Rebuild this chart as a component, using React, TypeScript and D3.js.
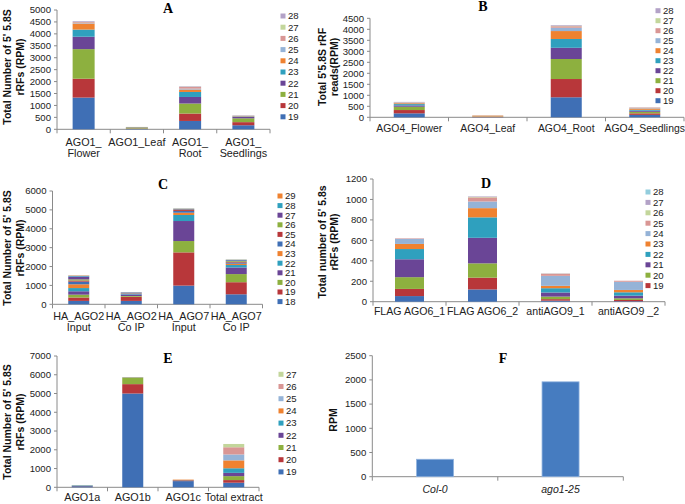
import React from "react";
import * as d3 from "d3";

// palette (Excel-style)
const BLUE = "#3F6FB5";
const RED = "#B8373A";
const GREEN = "#8DB03F";
const PURPLE = "#6A4596";
const TEAL = "#2FA0BE";
const ORANGE = "#EF8230";
const LBLUE = "#95B3D7";
const PINK = "#D99694";
const LGREEN = "#C3D69B";
const LAVENDER = "#B3A2C7";
const LCYAN = "#93CDDD";

// panel A
const keysA = ["19", "20", "21", "22", "23", "24", "25", "26", "27", "28"];
const catsA = [["AGO1_", "Flower"], ["AGO1_Leaf"], ["AGO1_", "Root"], ["AGO1_", "Seedlings"]];
const rowsA = [
  [1330, 790, 1240, 520, 300, 250, 20, 40, 10, 30],
  [20, 15, 40, 10, 5, 5, 2, 2, 1, 0],
  [350, 310, 420, 275, 210, 100, 40, 70, 10, 20],
  [170, 130, 160, 60, 20, 15, 10, 10, 5, 10],
];
const colorsA = [BLUE, RED, GREEN, PURPLE, TEAL, ORANGE, LBLUE, PINK, LGREEN, LAVENDER];

// panel B
const keysB = ["19", "20", "21", "22", "23", "24", "25", "26", "27", "28"];
const catsB = [["AGO4_Flower"], ["AGO4_Leaf"], ["AGO4_Root"], ["AGO4_Seedlings"]];
const rowsB = [
  [180, 150, 150, 60, 60, 40, 20, 20, 5, 15],
  [8, 8, 10, 5, 7, 40, 5, 5, 2, 0],
  [910, 830, 910, 510, 400, 360, 150, 70, 20, 30],
  [110, 70, 70, 50, 40, 60, 20, 20, 5, 10],
];

// panel C
const keysC = ["18", "19", "20", "21", "22", "23", "24", "25", "26", "27", "28", "29"];
const catsC = [["HA_AGO2", "Input"], ["HA_AGO2", "Co IP"], ["HA_AGO7", "Input"], ["HA_AGO7", "Co IP"]];
const rowsC = [
  [180, 180, 150, 180, 170, 200, 140, 60, 60, 150, 40, 20],
  [180, 220, 40, 80, 30, 20, 20, 10, 10, 20, 10, 0],
  [990, 1760, 600, 1060, 320, 120, 90, 50, 30, 30, 15, 10],
  [530, 640, 430, 350, 130, 70, 60, 40, 40, 40, 30, 10],
];
const colorsC = [BLUE, RED, GREEN, PURPLE, TEAL, ORANGE, BLUE, RED, GREEN, PURPLE, TEAL, ORANGE];

// panel D
const keysD = ["18", "19", "20", "21", "22", "23", "24", "25", "26", "27", "28"];
const legendD = ["19", "20", "21", "22", "23", "24", "25", "26", "27", "28"];
const catsD = [["FLAG AGO6_1"], ["FLAG AGO6_2"], ["antiAGO9_1"], ["antiAGO9 _2"]];
const rowsD = [
  [55, 70, 115, 175, 100, 50, 50, 5, 0, 0, 0],
  [120, 115, 140, 250, 200, 90, 65, 40, 5, 5, 0],
  [10, 15, 25, 40, 42, 23, 98, 20, 2, 2, 0],
  [5, 12, 16, 26, 33, 23, 80, 10, 0, 0, 0],
];
const colorsD = [BLUE, RED, GREEN, PURPLE, TEAL, ORANGE, LBLUE, PINK, LGREEN, LAVENDER, LCYAN];

// panel E
const keysE = ["19", "20", "21", "22", "23", "24", "25", "26", "27"];
const catsE = [["AGO1a"], ["AGO1b"], ["AGO1c"], ["Total extract"]];
const rowsE = [
  [60, 10, 10, 10, 20, 5, 5, 0, 0],
  [5000, 500, 350, 10, 5, 5, 0, 0, 0],
  [330, 40, 10, 5, 5, 20, 0, 0, 0],
  [245, 140, 210, 175, 245, 420, 315, 385, 175],
];

// panel F
const catsF = ["Col-0", "ago1-25"];
const valuesF = [360, 1960];

const SANS = "'Liberation Sans', Arial, sans-serif";
const SERIF = "'Liberation Serif', 'Times New Roman', serif";
const AXIS = "#8a8a8a";

type PanelProps = {
  cats: string[][];
  keys: string[];
  rows: number[][];
  colors: string[];
  legendKeys?: string[];
  x0: number;
  x1: number;
  y0: number;
  y1: number;
  yMax: number;
  yStep: number;
  barW: number;
  legX: number;
  legY: number;
  legDy: number;
  title: string;
  titleX: number;
  titleY: number;
  ylab: string[];
  ylabX: number[];
  ylabY: number;
  catY: number[];
  catSize?: number;
};

function Frame(p: {
  x: d3.ScaleBand<string>;
  y: d3.ScaleLinear<number, number>;
  ticks: number[];
  x0: number;
  x1: number;
  y0: number;
  labels: string[][];
  catY: number[];
  catSize?: number;
  italic?: boolean;
}) {
  const { x, y, ticks, x0, x1, y0 } = p;
  const bounds = [...x.domain().map((d) => x(d) as number), x1];
  return (
    <g>
      <line x1={x0} x2={x0} y1={y(ticks[ticks.length - 1])} y2={y0} stroke={AXIS} />
      {ticks.map((t) => (
        <g key={t}>
          <line x1={x0 - 3} x2={x0} y1={y(t)} y2={y(t)} stroke={AXIS} />
          <text x={x0 - 6} y={y(t)} dy="0.35em" textAnchor="end" fontSize={9.6} fontFamily={SANS} fill="#222">
            {t}
          </text>
        </g>
      ))}
      <line x1={x0} x2={x1} y1={y0} y2={y0} stroke={AXIS} />
      {bounds.map((b, i) => (
        <line key={i} x1={b} x2={b} y1={y0} y2={y0 + 4} stroke={AXIS} />
      ))}
      {x.domain().map((d, i) => (
        <g key={d}>
          {p.labels[i].map((ln, j) => (
            <text
              key={j}
              x={(x(d) as number) + x.bandwidth() / 2}
              y={p.catY[j]}
              dy="0.35em"
              textAnchor="middle"
              fontSize={p.catSize ?? 10.5}
              fontFamily={SANS}
              fontStyle={p.italic ? "italic" : "normal"}
              fill="#222"
            >
              {ln}
            </text>
          ))}
        </g>
      ))}
    </g>
  );
}

function Labels(p: { title: string; tx: number; ty: number; ylab: string[]; ylabX: number[]; ylabY: number }) {
  return (
    <g>
      <text x={p.tx} y={p.ty} dy="0.35em" textAnchor="middle" fontFamily={SERIF} fontWeight="bold" fontSize={14}>
        {p.title}
      </text>
      {p.ylab.map((ln, i) => (
        <text
          key={i}
          transform={`translate(${p.ylabX[i]},${p.ylabY}) rotate(-90)`}
          dy="0.35em"
          textAnchor="middle"
          fontFamily={SANS}
          fontWeight="bold"
          fontSize={10.5}
          fill="#111"
        >
          {ln}
        </text>
      ))}
    </g>
  );
}

function StackPanel(p: PanelProps) {
  const names = p.cats.map((c) => c.join(" "));
  const x = d3.scaleBand<string>().domain(names).range([p.x0, p.x1]).padding(0);
  const y = d3.scaleLinear().domain([0, p.yMax]).range([p.y0, p.y1]);
  const ticks = d3.range(0, p.yMax + p.yStep / 2, p.yStep);
  const data = p.rows.map((r, i) => {
    const o: Record<string, any> = { cat: names[i] };
    p.keys.forEach((k, j) => (o[k] = r[j]));
    return o;
  });
  const series = d3.stack<Record<string, any>>().keys(p.keys)(data);
  const color = d3.scaleOrdinal<string, string>().domain(p.keys).range(p.colors);
  const legKeys = (p.legendKeys ?? p.keys).slice().reverse();
  return (
    <g>
      <Frame x={x} y={y} ticks={ticks} x0={p.x0} x1={p.x1} y0={p.y0} labels={p.cats} catY={p.catY} catSize={p.catSize} />
      {series.map((s) => (
        <g key={s.key} fill={color(s.key)}>
          {s.map((d, i) =>
            d[1] - d[0] > 0 ? (
              <rect
                key={i}
                x={(x(names[i]) as number) + x.bandwidth() / 2 - p.barW / 2}
                width={p.barW}
                y={y(d[1])}
                height={y(d[0]) - y(d[1])}
              />
            ) : null
          )}
        </g>
      ))}
      {legKeys.map((k, i) => (
        <g key={k} transform={`translate(${p.legX},${p.legY + i * p.legDy})`}>
          <rect x={-2.5} y={-2.5} width={5} height={5} fill={color(k)} />
          <text x={5} dy="0.35em" fontSize={9.6} fontFamily={SANS} fill="#222">
            {k}
          </text>
        </g>
      ))}
      <Labels title={p.title} tx={p.titleX} ty={p.titleY} ylab={p.ylab} ylabX={p.ylabX} ylabY={p.ylabY} />
    </g>
  );
}

function BarPanelF() {
  const x0 = 372.3, x1 = 623.3, y0 = 476.7, y1 = 355.7;
  const x = d3.scaleBand<string>().domain(catsF).range([x0, x1]).padding(0);
  const y = d3.scaleLinear().domain([0, 2500]).range([y0, y1]);
  const ticks = d3.range(0, 2501, 500);
  const bw = 37;
  return (
    <g>
      <Frame x={x} y={y} ticks={ticks} x0={x0} x1={x1} y0={y0} labels={catsF.map((c) => [c])} catY={[489]} italic />
      {catsF.map((c, i) => (
        <rect
          key={c}
          x={(x(c) as number) + x.bandwidth() / 2 - bw / 2}
          width={bw}
          y={y(valuesF[i])}
          height={y0 - y(valuesF[i])}
          fill="#467CC0"
          stroke="#8FB2DE"
          strokeWidth={0.8}
        />
      ))}
      <Labels title="F" tx={503} ty={358} ylab={["RPM"]} ylabX={[333]} ylabY={420} />
    </g>
  );
}

export default function App() {
  return (
    <svg width={685} height={504} style={{ display: "block", position: "absolute", left: 0, top: 0, background: "#fff" }}>
      <StackPanel
        cats={catsA} keys={keysA} rows={rowsA} colors={colorsA}
        x0={57} x1={270} y0={129.3} y1={10} yMax={5000} yStep={500} barW={22}
        legX={283} legY={16} legDy={11.2}
        title="A" titleX={168} titleY={8}
        ylab={["Total Number of 5' 5.8S", "rRFs (RPM)"]} ylabX={[7, 20]} ylabY={67}
        catY={[142, 153]} catSize={10.8}
      />
      <StackPanel
        cats={catsB} keys={keysB} rows={rowsB} colors={colorsA}
        x0={370} x1={684} y0={117.3} y1={18.3} yMax={4500} yStep={500} barW={31}
        legX={658} legY={10.7} legDy={10}
        title="B" titleX={483} titleY={6}
        ylab={["Total 5'5.8S  rRF", "reads(RPM)"]} ylabX={[322, 334]} ylabY={67}
        catY={[128.5]} catSize={10.4}
      />
      <StackPanel
        cats={catsC} keys={keysC} rows={rowsC} colors={colorsC}
        x0={52.5} x1={262.5} y0={304.3} y1={191} yMax={6000} yStep={1000} barW={21}
        legX={280} legY={196} legDy={9.6}
        title="C" titleX={163} titleY={184}
        ylab={["Total Number of 5' 5.8S", "rRFs (RPM)"]} ylabX={[7, 20]} ylabY={248}
        catY={[316.7, 327.7]} catSize={10.8}
      />
      <StackPanel
        cats={catsD} keys={keysD} rows={rowsD} colors={colorsD} legendKeys={legendD}
        x0={373} x1={665} y0={301.7} y1={179} yMax={1200} yStep={200} barW={29}
        legX={648} legY={192} legDy={10.4}
        title="D" titleX={486} titleY={183}
        ylab={["Total number of 5' 5.8s", "rRFs (RPM)"]} ylabX={[322, 334]} ylabY={242}
        catY={[311.7]} catSize={10.6}
      />
      <StackPanel
        cats={catsE} keys={keysE} rows={rowsE} colors={colorsA.slice(0, 9)}
        x0={57} x1={259} y0={487.3} y1={356} yMax={7000} yStep={1000} barW={21}
        legX={281} legY={374.3} legDy={12.2}
        title="E" titleX={168} titleY={358}
        ylab={["Total Number of 5' 5.8S", "rRFs (RPM)"]} ylabX={[7, 20]} ylabY={422}
        catY={[497]} catSize={10.8}
      />
      <BarPanelF />
    </svg>
  );
}
